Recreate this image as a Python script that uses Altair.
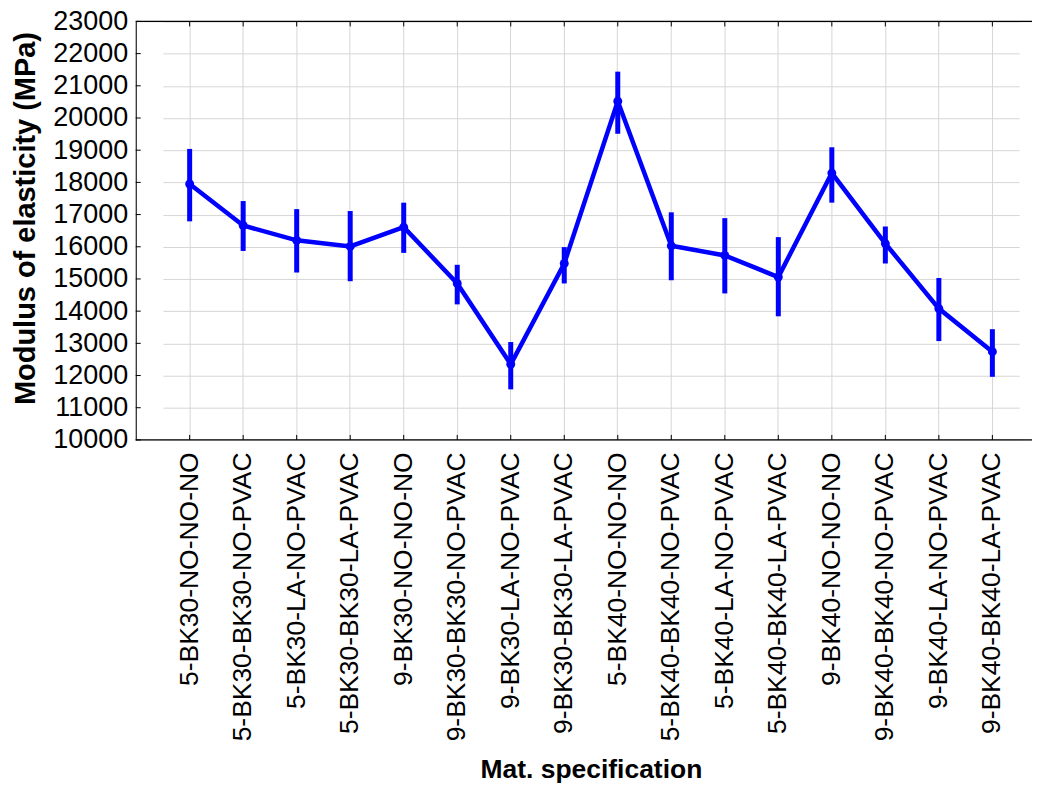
import altair as alt
import pandas as pd

categories = [
    "5-BK30-NO-NO-NO", "5-BK30-BK30-NO-PVAC", "5-BK30-LA-NO-PVAC", "5-BK30-BK30-LA-PVAC",
    "9-BK30-NO-NO-NO", "9-BK30-BK30-NO-PVAC", "9-BK30-LA-NO-PVAC", "9-BK30-BK30-LA-PVAC",
    "5-BK40-NO-NO-NO", "5-BK40-BK40-NO-PVAC", "5-BK40-LA-NO-PVAC", "5-BK40-BK40-LA-PVAC",
    "9-BK40-NO-NO-NO", "9-BK40-BK40-NO-PVAC", "9-BK40-LA-NO-PVAC", "9-BK40-BK40-LA-PVAC",
]
means = [17950, 16660, 16200, 16010, 16610, 14860, 12350, 15480,
         20520, 16030, 15730, 15060, 18290, 16100, 14080, 12740]
lower = [16790, 15870, 15200, 14930, 15810, 14210, 11570, 14860,
         19510, 14960, 14550, 13840, 17370, 15480, 13070, 11960]
upper = [19040, 17420, 17170, 17110, 17370, 15440, 13040, 15990,
         21440, 17070, 16890, 16300, 19090, 16630, 15030, 13440]
y_ticks = [10000, 11000, 12000, 13000, 14000, 15000, 16000, 17000,
           18000, 19000, 20000, 21000, 22000, 23000]

W = 898
H = 419.3
FONT = "Liberation Sans"
BLUE = "#0000ff"

df = pd.DataFrame({"spec": categories, "mean": means, "lo": lower, "hi": upper})
ticks_df = pd.DataFrame({"t": y_ticks})
one = pd.DataFrame({"a": [0]})

# point scale (default outer padding of half a step)
x_scale = alt.Scale(domain=categories, range=[27.2, 885.1])
y_scale = alt.Scale(domain=[10000, 23000], nice=False, zero=False)

x_axis = alt.Axis(
    title="Mat. specification", labelAngle=-90, labelPadding=12,
    labelFontSize=26.5, labelFont=FONT, labelColor="black", labelLimit=0,
    titleFont=FONT, titleFontSize=26.5, titleFontWeight="bold", titleColor="black",
    titleX=456, titleY=338, titleAlign="center", titleBaseline="alphabetic",
    domain=False, ticks=False, tickSize=0, grid=True,
    gridColor="#d6d6d6", gridWidth=1, labelOverlap=False,
)
y_axis = alt.Axis(
    title="Modulus of elasticity (MPa)", values=y_ticks, format="d",
    labelFontSize=27, labelFont=FONT, labelColor="black", labelPadding=8,
    labelOverlap=False, labelBound=False, labelFlush=False,
    titleFont=FONT, titleFontSize=29, titleFontWeight="bold", titleColor="black",
    titleX=-110, titleY=197, titleAlign="center", titleBaseline="middle", titleAngle=-90,
    domain=True, domainColor="black", domainWidth=1,
    ticks=False, tickSize=0, grid=True, gridColor="#d6d6d6", gridWidth=1,
)

x_enc = alt.X("spec:N", scale=x_scale, sort=categories, axis=x_axis)


def y_enc(field):
    return alt.Y(field, scale=y_scale, axis=y_axis)


base = alt.Chart(df)

line = base.mark_line(color=BLUE, strokeWidth=4.5).encode(x=x_enc, y=y_enc("mean:Q"))
errbars = base.mark_rule(color=BLUE, strokeWidth=5).encode(
    x=x_enc, y=y_enc("lo:Q"), y2="hi:Q"
)
pts = base.mark_circle(color=BLUE, size=80, opacity=1).encode(x=x_enc, y=y_enc("mean:Q"))

left_ticks = alt.Chart(ticks_df).mark_rule(color="black", strokeWidth=1).encode(
    y=y_enc("t:Q"), x=alt.value(0), x2=alt.value(5)
)
bottom_ticks = base.mark_rule(color="black", strokeWidth=1).encode(
    x=x_enc, y=alt.value(H - 5), y2=alt.value(H)
)
top_ticks = base.mark_rule(color="black", strokeWidth=1).encode(
    x=x_enc, y=alt.value(0), y2=alt.value(5)
)
top_border = alt.Chart(one).mark_rule(color="black", strokeWidth=1.2).encode(
    x=alt.value(0), x2=alt.value(W), y=alt.value(0)
)
bottom_border = alt.Chart(one).mark_rule(color="black", strokeWidth=1.2).encode(
    x=alt.value(0), x2=alt.value(W), y=alt.value(H)
)

chart = alt.layer(
    line, errbars, pts, left_ticks, bottom_ticks, top_ticks, top_border, bottom_border
).properties(
    width=W, height=H,
    autosize=alt.AutoSizeParams(type="none"),
    padding={"left": 128, "top": 12.7, "right": 0, "bottom": 344},
).configure_view(stroke=None).configure(background="white")

chart.save("out.html", embed_options={"renderer": "svg", "actions": False})
